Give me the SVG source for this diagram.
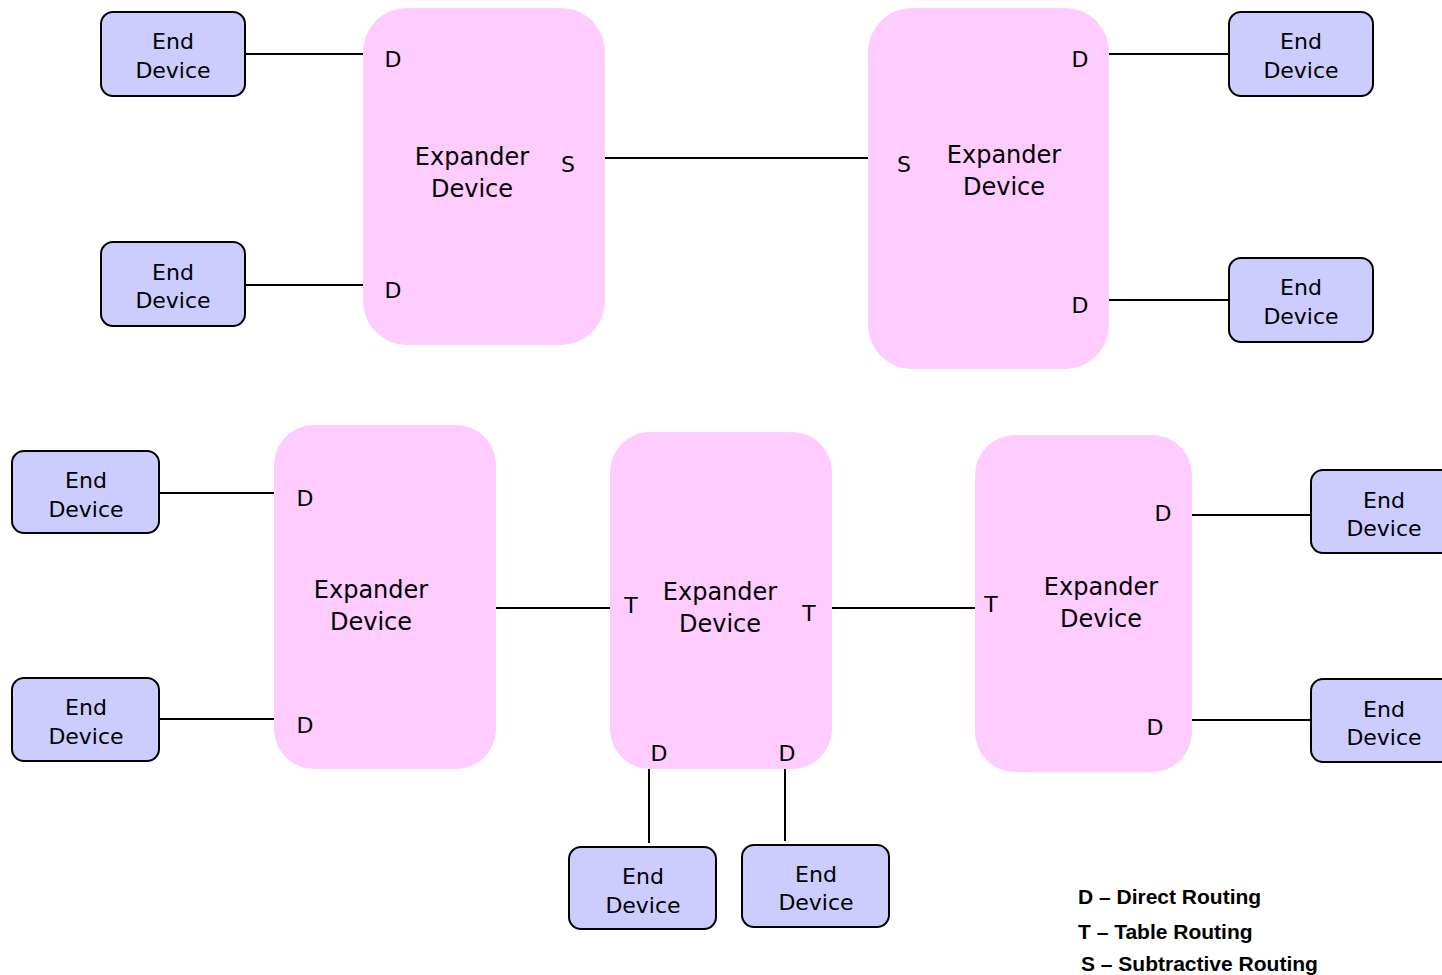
<svg xmlns="http://www.w3.org/2000/svg" width="1442" height="975" viewBox="0 0 1442 975">
  <style>
    .exp { fill: #ffccff; }
    .end { fill: #ccccff; stroke: #000; stroke-width: 2; }
    .wire { stroke: #000; stroke-width: 2; fill: none; }
    text { font-family: "DejaVu Sans", Verdana, sans-serif; fill: #000; }
    .el { font-size: 22px; text-anchor: middle; }
    .xl { font-size: 24px; text-anchor: middle; }
    .port { font-size: 22px; text-anchor: middle; }
    .legend { font-family: "Liberation Sans", Arial, sans-serif; font-size: 21px; font-weight: bold; }
  </style>
  <rect width="1442" height="975" fill="#fff"/>

  <!-- links -->
  <g id="connectors">
    <line class="wire" x1="245" y1="54" x2="364" y2="54"/>
    <line class="wire" x1="245" y1="285" x2="364" y2="285"/>
    <line class="wire" x1="605" y1="158" x2="869" y2="158"/>
    <line class="wire" x1="1109" y1="54" x2="1229" y2="54"/>
    <line class="wire" x1="1109" y1="300" x2="1229" y2="300"/>
    <line class="wire" x1="159" y1="493" x2="280" y2="493"/>
    <line class="wire" x1="159" y1="719" x2="280" y2="719"/>
    <line class="wire" x1="493" y1="608" x2="613" y2="608"/>
    <line class="wire" x1="832" y1="608" x2="975" y2="608"/>
    <line class="wire" x1="649" y1="769" x2="649" y2="843"/>
    <line class="wire" x1="785" y1="768" x2="785" y2="841"/>
    <line class="wire" x1="1192" y1="515" x2="1311" y2="515"/>
    <line class="wire" x1="1192" y1="720" x2="1311" y2="720"/>
  </g>

  <!-- expanders -->
  <g id="exp-top-left">
    <rect class="exp" x="363" y="8" width="242" height="337" rx="44"/>
    <text class="xl" x="472" y="165">Expander</text>
    <text class="xl" x="472" y="197">Device</text>
    <text class="port" x="393" y="67">D</text>
    <text class="port" x="393" y="298">D</text>
    <text class="port" x="568" y="172">S</text>
  </g>
  <g id="exp-top-right">
    <rect class="exp" x="868" y="8" width="241" height="361" rx="44"/>
    <text class="xl" x="1004" y="163">Expander</text>
    <text class="xl" x="1004" y="195">Device</text>
    <text class="port" x="1080" y="67">D</text>
    <text class="port" x="1080" y="313">D</text>
    <text class="port" x="904" y="172">S</text>
  </g>
  <g id="exp-bottom-left">
    <rect class="exp" x="274" y="425" width="222" height="344" rx="40"/>
    <text class="xl" x="371" y="598">Expander</text>
    <text class="xl" x="371" y="630">Device</text>
    <text class="port" x="305" y="506">D</text>
    <text class="port" x="305" y="733">D</text>
  </g>
  <g id="exp-bottom-mid">
    <rect class="exp" x="610" y="432" width="222" height="337" rx="40"/>
    <text class="xl" x="720" y="600">Expander</text>
    <text class="xl" x="720" y="632">Device</text>
    <text class="port" x="631" y="613">T</text>
    <text class="port" x="809" y="621">T</text>
    <text class="port" x="659" y="761">D</text>
    <text class="port" x="787" y="761">D</text>
  </g>
  <g id="exp-bottom-right">
    <rect class="exp" x="975" y="435" width="217" height="337" rx="40"/>
    <text class="xl" x="1101" y="595">Expander</text>
    <text class="xl" x="1101" y="627">Device</text>
    <text class="port" x="991" y="612">T</text>
    <text class="port" x="1163" y="521">D</text>
    <text class="port" x="1155" y="735">D</text>
  </g>

  <!-- end devices -->
  <g id="end-1">
    <rect class="end" x="101" y="12" width="144" height="84" rx="12"/>
    <text class="el" x="173" y="49">End</text>
    <text class="el" x="173" y="78">Device</text>
  </g>
  <g id="end-2">
    <rect class="end" x="101" y="242" width="144" height="84" rx="12"/>
    <text class="el" x="173" y="280">End</text>
    <text class="el" x="173" y="308">Device</text>
  </g>
  <g id="end-3">
    <rect class="end" x="1229" y="12" width="144" height="84" rx="12"/>
    <text class="el" x="1301" y="49">End</text>
    <text class="el" x="1301" y="78">Device</text>
  </g>
  <g id="end-4">
    <rect class="end" x="1229" y="258" width="144" height="84" rx="12"/>
    <text class="el" x="1301" y="295">End</text>
    <text class="el" x="1301" y="324">Device</text>
  </g>
  <g id="end-5">
    <rect class="end" x="12" y="451" width="147" height="82" rx="12"/>
    <text class="el" x="86" y="488">End</text>
    <text class="el" x="86" y="517">Device</text>
  </g>
  <g id="end-6">
    <rect class="end" x="12" y="678" width="147" height="83" rx="12"/>
    <text class="el" x="86" y="715">End</text>
    <text class="el" x="86" y="744">Device</text>
  </g>
  <g id="end-7">
    <rect class="end" x="569" y="847" width="147" height="82" rx="12"/>
    <text class="el" x="643" y="884">End</text>
    <text class="el" x="643" y="913">Device</text>
  </g>
  <g id="end-8">
    <rect class="end" x="742" y="845" width="147" height="82" rx="12"/>
    <text class="el" x="816" y="882">End</text>
    <text class="el" x="816" y="910">Device</text>
  </g>
  <g id="end-9">
    <rect class="end" x="1311" y="470" width="147" height="83" rx="12"/>
    <text class="el" x="1384" y="508">End</text>
    <text class="el" x="1384" y="536">Device</text>
  </g>
  <g id="end-10">
    <rect class="end" x="1311" y="679" width="147" height="83" rx="12"/>
    <text class="el" x="1384" y="717">End</text>
    <text class="el" x="1384" y="745">Device</text>
  </g>

  <!-- key -->
  <g id="legend">
    <text class="legend" x="1078" y="904">D – Direct Routing</text>
    <text class="legend" x="1078" y="939">T – Table Routing</text>
    <text class="legend" x="1081" y="971">S – Subtractive Routing</text>
  </g>
</svg>
